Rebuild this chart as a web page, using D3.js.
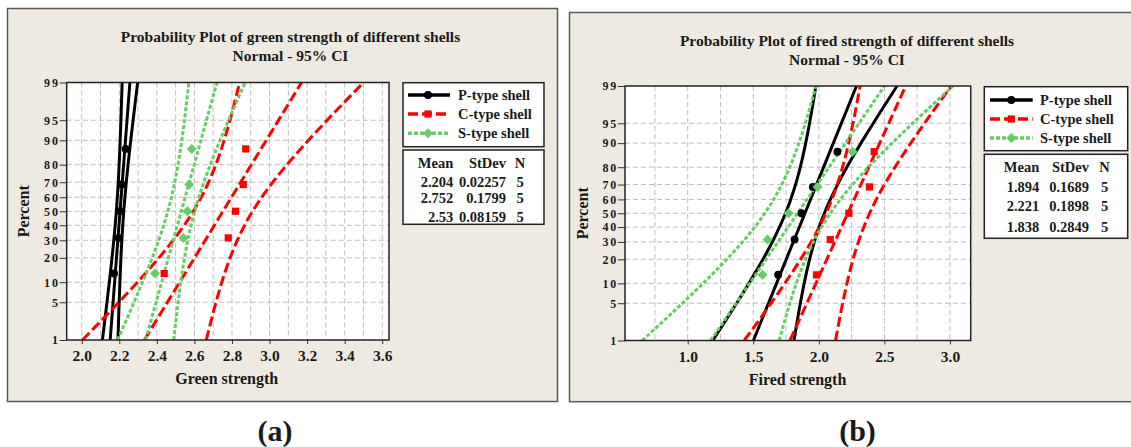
<!DOCTYPE html>
<html>
<head>
<meta charset="utf-8">
<script src="https://cdn.jsdelivr.net/npm/d3@7"></script>
<style>
  body { margin: 0; background: #fff; }
  svg text { font-family: "Liberation Serif", "Times New Roman", serif; font-weight: bold; fill: #1a1a1a; }
</style>
</head>
<body>
<svg id="chart" width="1131" height="447"></svg>
<script>
// ---- data ----
const seriesNames = ["P-type shell", "C-type shell", "S-type shell"];
const percentTicks = [1, 5, 10, 20, 30, 40, 50, 60, 70, 80, 90, 95, 99];
const plotPercents = [13, 31.5, 50, 68.5, 87];

// (a) green strength
const greenP = [2.172, 2.197, 2.204, 2.212, 2.234];
const greenC = [2.439, 2.780, 2.819, 2.860, 2.873];
const greenS = [2.390, 2.542, 2.563, 2.572, 2.586];
const greenMean = [2.204, 2.752, 2.53];
const greenStDev = [0.02257, 0.1799, 0.08159];
const greenN = [5, 5, 5];
const greenMeanText = ["2.204", "2.752", "2.53"];
const greenStDevText = ["0.02257", "0.1799", "0.08159"];
const greenTicks = [2.0, 2.2, 2.4, 2.6, 2.8, 3.0, 3.2, 3.4, 3.6];

// (b) fired strength
const firedP = [1.690, 1.815, 1.868, 1.955, 2.142];
const firedC = [1.982, 2.087, 2.229, 2.386, 2.422];
const firedS = [1.571, 1.609, 1.769, 1.990, 2.257];
const firedMean = [1.894, 2.221, 1.838];
const firedStDev = [0.1689, 0.1898, 0.2849];
const firedN = [5, 5, 5];
const firedMeanText = ["1.894", "2.221", "1.838"];
const firedStDevText = ["0.1689", "0.1898", "0.2849"];
const firedTicks = [1.0, 1.5, 2.0, 2.5, 3.0];

// ---- styles ----
const seriesStyle = [
  { color: "#000000", dash: null, width: 3, marker: "circle" },
  { color: "#ff0000", dash: "10,4", width: 3, marker: "square" },
  { color: "#66cc66", dash: "4,2", width: 3, marker: "diamond" }
];
const panelBg = "#eeeae1";
const fs = { title: 15.5, tick: 15.5, ytick: 12, axis: 16, legend: 14.5, sub: 30 };

// inverse normal cdf (Acklam)
function probit(p) {
  const a = [-3.969683028665376e+01, 2.209460984245205e+02, -2.759285104469687e+02, 1.383577518672690e+02, -3.066479806614716e+01, 2.506628277459239e+00];
  const b = [-5.447609879822406e+01, 1.615858368580409e+02, -1.556989798598866e+02, 6.680131188771972e+01, -1.328068155288572e+01];
  const c = [-7.784894002430293e-03, -3.223964580411365e-01, -2.400758277161838e+00, -2.549732539343734e+00, 4.374664141464968e+00, 2.938163982698783e+00];
  const d = [7.784695709041462e-03, 3.224671290700398e-01, 2.445134137142996e+00, 3.754408661907416e+00];
  const pl = 0.02425;
  if (p < pl) {
    const q = Math.sqrt(-2 * Math.log(p));
    return (((((c[0]*q+c[1])*q+c[2])*q+c[3])*q+c[4])*q+c[5]) / ((((d[0]*q+d[1])*q+d[2])*q+d[3])*q+1);
  }
  if (p > 1 - pl) {
    const q = Math.sqrt(-2 * Math.log(1 - p));
    return -(((((c[0]*q+c[1])*q+c[2])*q+c[3])*q+c[4])*q+c[5]) / ((((d[0]*q+d[1])*q+d[2])*q+d[3])*q+1);
  }
  const q = p - 0.5, r = q * q;
  return (((((a[0]*r+a[1])*r+a[2])*r+a[3])*r+a[4])*r+a[5])*q / (((((b[0]*r+b[1])*r+b[2])*r+b[3])*r+b[4])*r+1);
}

const svg = d3.select("#chart");

function markerPath(kind) {
  if (kind === "circle") return d3.symbol(d3.symbolCircle, 50)();
  if (kind === "square") return d3.symbol(d3.symbolSquare, 52)();
  const p = d3.path(), h = 5;   // square diamond
  p.moveTo(0, -h); p.lineTo(h, 0); p.lineTo(0, h); p.lineTo(-h, 0); p.closePath();
  return p.toString();
}

function drawPanel(cfg) {
  const g = svg.append("g");
  g.append("rect").attr("x", cfg.box[0]).attr("y", cfg.box[1]).attr("width", cfg.box[2]).attr("height", cfg.box[3])
    .attr("fill", panelBg).attr("stroke", "#5a5a5a").attr("stroke-width", 1.5);

  const P = cfg.plot;
  const x = d3.scaleLinear().domain(cfg.xDomain).range([P.l, P.r]);
  const zMax = probit(0.99);
  const zs = d3.scaleLinear().domain([-zMax, zMax]).range([P.b, P.t]);
  const y = pct => zs(probit(pct / 100));

  g.append("rect").attr("x", P.l).attr("y", P.t).attr("width", P.r - P.l).attr("height", P.b - P.t).attr("fill", "#fff");

  // grid
  const grid = g.append("g").attr("stroke", "#bdbdbd").attr("stroke-width", 1).attr("stroke-dasharray", "5,3");
  grid.selectAll("line.v").data(cfg.grid).join("line").attr("class", "v")
    .attr("x1", d => x(d)).attr("x2", d => x(d)).attr("y1", P.t).attr("y2", P.b);
  grid.selectAll("line.h").data(percentTicks.slice(1, -1)).join("line").attr("class", "h")
    .attr("x1", P.l).attr("x2", P.r).attr("y1", d => y(d)).attr("y2", d => y(d));

  // axes
  const xAxis = d3.axisBottom(x).tickValues(cfg.ticks).tickFormat(d3.format(".1f")).tickSize(4).tickPadding(6);
  const gx = g.append("g").attr("transform", `translate(0,${P.b})`).call(xAxis);
  gx.select(".domain").remove();
  gx.selectAll("line").attr("stroke", "#333");
  gx.selectAll("text").attr("font-size", fs.tick);

  const yAxis = d3.axisLeft(zs).tickValues(percentTicks.map(p => probit(p / 100)))
    .tickFormat((d, i) => percentTicks[i]).tickSize(7).tickPadding(0);
  const gy = g.append("g").attr("transform", `translate(${P.l},0)`).call(yAxis);
  gy.select(".domain").remove();
  gy.selectAll("line").attr("stroke", "#333");
  gy.selectAll("text").attr("font-size", fs.ytick).attr("letter-spacing", 1.8);

  // fitted lines and 95% CI
  const clipId = "clip" + cfg.id;
  g.append("clipPath").attr("id", clipId).append("rect")
    .attr("x", P.l).attr("y", P.t).attr("width", P.r - P.l).attr("height", P.b - P.t);
  const lines = g.append("g").attr("clip-path", `url(#${clipId})`);
  const zGrid = d3.range(0, 61).map(i => -zMax + (2 * zMax) * i / 60);
  const line = d3.line().x(d => x(d[0])).y(d => zs(d[1]));

  cfg.values.forEach((vals, k) => {
    const m = cfg.mean[k], s = cfg.sd[k], n = cfg.n[k], st = seriesStyle[k];
    const se = z => s * Math.sqrt(1 / n + z * z / (2 * (n - 1)));
    const fits = [
      zGrid.map(z => [m + z * s, z]),
      zGrid.map(z => [m + z * s - 1.96 * se(z), z]),
      zGrid.map(z => [m + z * s + 1.96 * se(z), z])
    ];
    lines.selectAll(null).data(fits).join("path")
      .attr("d", line).attr("fill", "none").attr("stroke", st.color)
      .attr("stroke-width", st.width).attr("stroke-dasharray", st.dash);
  });

  cfg.values.forEach((vals, k) => {
    const st = seriesStyle[k];
    g.append("g").selectAll("path").data(vals).join("path")
      .attr("transform", (d, i) => `translate(${x(d)},${y(plotPercents[i])})`)
      .attr("d", markerPath(st.marker)).attr("fill", st.color);
  });

  g.append("rect").attr("x", P.l).attr("y", P.t).attr("width", P.r - P.l).attr("height", P.b - P.t)
    .attr("fill", "none").attr("stroke", "#222").attr("stroke-width", 1.5);

  // titles
  g.append("text").attr("x", cfg.titleX).attr("y", cfg.titleY[0]).attr("dy", "0.35em").attr("text-anchor", "middle")
    .attr("font-size", fs.title).text(cfg.title);
  g.append("text").attr("x", cfg.titleX).attr("y", cfg.titleY[1]).attr("dy", "0.35em").attr("text-anchor", "middle")
    .attr("font-size", fs.title).text("Normal - 95% CI");
  g.append("text").attr("x", cfg.xTitle[0]).attr("y", cfg.xTitle[1]).attr("dy", "0.35em").attr("text-anchor", "middle")
    .attr("font-size", fs.axis).text(cfg.xLabel);
  g.append("text").attr("transform", `translate(${cfg.yTitleX},${(P.t + P.b) / 2}) rotate(-90)`)
    .attr("dy", "0.35em").attr("text-anchor", "middle").attr("font-size", fs.axis).text("Percent");
  g.append("text").attr("x", cfg.subLabel[0]).attr("y", cfg.subLabel[1]).attr("dy", "0.35em").attr("text-anchor", "middle")
    .attr("font-size", fs.sub).attr("fill", "#000").text(cfg.sub);

  // legend
  const L = cfg.legend;
  g.append("rect").attr("x", L.box[0]).attr("y", L.box[1]).attr("width", L.box[2] - L.box[0]).attr("height", L.box[3] - L.box[1])
    .attr("fill", "#fff").attr("stroke", "#222").attr("stroke-width", 1.5);
  seriesNames.forEach((name, k) => {
    const st = seriesStyle[k], yy = L.rows[k];
    g.append("line").attr("x1", L.line[0]).attr("x2", L.line[1]).attr("y1", yy).attr("y2", yy)
      .attr("stroke", st.color).attr("stroke-width", 3.5).attr("stroke-dasharray", st.dash);
    g.append("path").attr("transform", `translate(${L.marker},${yy})`).attr("d", markerPath(st.marker)).attr("fill", st.color);
    g.append("text").attr("x", L.text).attr("y", yy).attr("dy", "0.35em").attr("font-size", fs.legend).text(name);
  });

  const S = cfg.stats;
  g.append("rect").attr("x", S.box[0]).attr("y", S.box[1]).attr("width", S.box[2] - S.box[0]).attr("height", S.box[3] - S.box[1])
    .attr("fill", "#fff").attr("stroke", "#222").attr("stroke-width", 1.5);
  const cell = (xx, yy, t, anchor) => g.append("text").attr("x", xx).attr("y", yy).attr("dy", "0.35em")
    .attr("text-anchor", anchor).attr("font-size", fs.legend).text(t);
  cell(S.cols[0], S.header, "Mean", "end");
  cell(S.cols[1], S.header, "StDev", "end");
  cell(S.cols[2], S.header, "N", "middle");
  cfg.meanText.forEach((t, k) => {
    cell(S.cols[0], S.rows[k], t, "end");
    cell(S.cols[1], S.rows[k], cfg.sdText[k], "end");
    cell(S.cols[2], S.rows[k], cfg.n[k], "middle");
  });
}

drawPanel({
  id: "a", sub: "(a)",
  box: [7.5, 8.5, 550, 393],
  plot: { l: 66.7, r: 389, t: 82.5, b: 340 },
  xDomain: [1.92, 3.636],
  grid: d3.range(2.0, 3.65, 0.1),
  ticks: greenTicks,
  values: [greenP, greenC, greenS], mean: greenMean, sd: greenStDev, n: greenN,
  meanText: greenMeanText, sdText: greenStDevText,
  title: "Probability Plot of green strength of different shells",
  titleX: 290.5, titleY: [36.7, 56],
  xLabel: "Green strength", xTitle: [226.7, 378],
  yTitleX: 23, subLabel: [275, 430],
  legend: { box: [403, 82.7, 544, 146.7], rows: [95, 114, 133.3], line: [408, 450], marker: 428, text: 458 },
  stats: { box: [403, 150, 544, 224.3], header: 162.7, rows: [181.7, 198.3, 216.7], cols: [453.3, 506, 520] }
});

drawPanel({
  id: "b", sub: "(b)",
  box: [569.5, 12.5, 580, 389.2],
  plot: { l: 625, r: 970.7, t: 86, b: 340.5 },
  xDomain: [0.522, 3.158],
  grid: d3.range(0.75, 3.01, 0.25),
  ticks: firedTicks,
  values: [firedP, firedC, firedS], mean: firedMean, sd: firedStDev, n: firedN,
  meanText: firedMeanText, sdText: firedStDevText,
  title: "Probability Plot of fired strength of different shells",
  titleX: 847, titleY: [40.7, 60],
  xLabel: "Fired strength", xTitle: [797.5, 379],
  yTitleX: 582.5, subLabel: [857.5, 430],
  legend: { box: [984.3, 86.7, 1127.7, 150.7], rows: [100, 119, 138], line: [990, 1032.7], marker: 1011.3, text: 1040 },
  stats: { box: [984.3, 154.3, 1127.7, 238.3], header: 167.3, rows: [186.7, 205.7, 226.7], cols: [1039.3, 1089, 1104.5] }
});
</script>
</body>
</html>
